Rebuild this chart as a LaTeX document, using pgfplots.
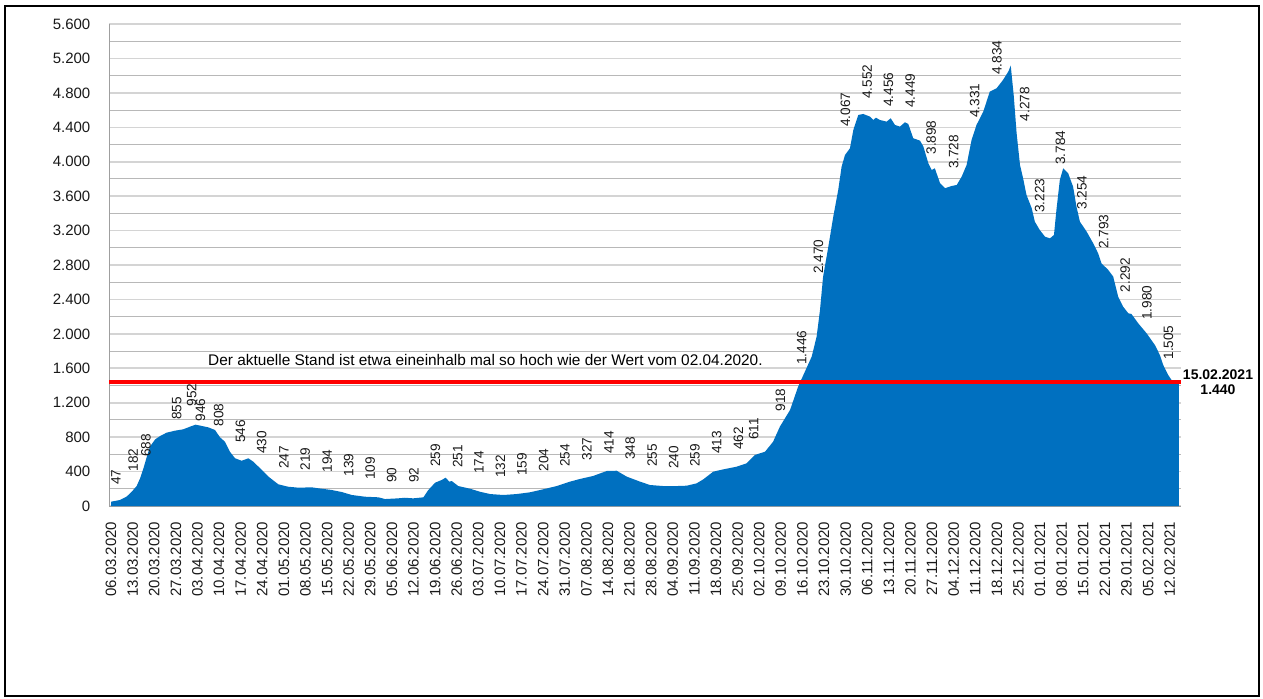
\documentclass[border=0pt]{standalone}
\usepackage{pgfplots}
\pgfplotsset{compat=1.18}
\usepackage{fontspec}
\setmainfont{Liberation Sans}
\definecolor{xlblue}{HTML}{0070C0}
\begin{document}
\begin{tikzpicture}
\begin{axis}[
  at={(0pt,0pt)}, anchor=south west,
  scale only axis, width=535.5pt, height=241pt,
  xmin=-0.5, xmax=346.5, ymin=0, ymax=5600,
  clip=false,
  axis x line=bottom, axis y line=left,
  axis line style={-, draw=gray!75, line width=0.5pt},
  ytick={0,400,...,5600},
  minor ytick={200,600,...,5400},
  ymajorgrids, yminorgrids,
  major grid style={draw=black!17, line width=0.8pt},
  minor grid style={draw=black!28, line width=0.45pt},
  tick style={draw=none},
  scaled y ticks=false,
  /pgf/number format/1000 sep={.},
  /pgf/number format/assume math mode=true,
  tick label style={font=\fontsize{7.5}{9}\selectfont, text=black!90},
  yticklabel style={anchor=east, inner sep=0pt},
  yticklabel shift=7.25pt,
  xtick={0,7,...,343},
  xticklabels={06.03.2020,13.03.2020,20.03.2020,27.03.2020,03.04.2020,10.04.2020,17.04.2020,24.04.2020,01.05.2020,08.05.2020,15.05.2020,22.05.2020,29.05.2020,05.06.2020,12.06.2020,19.06.2020,26.06.2020,03.07.2020,10.07.2020,17.07.2020,24.07.2020,31.07.2020,07.08.2020,14.08.2020,21.08.2020,28.08.2020,04.09.2020,11.09.2020,18.09.2020,25.09.2020,02.10.2020,09.10.2020,16.10.2020,23.10.2020,30.10.2020,06.11.2020,13.11.2020,20.11.2020,27.11.2020,04.12.2020,11.12.2020,18.12.2020,25.12.2020,01.01.2021,08.01.2021,15.01.2021,22.01.2021,29.01.2021,05.02.2021,12.02.2021},
  xticklabel style={rotate=90, anchor=east, inner sep=0pt},
  xticklabel shift=5.5pt,
]
\addplot[fill=xlblue, draw=none] table {
x y
0 50
2.9 70
5 108
6.7 166
8.3 232
9.4 321
10.5 438
11.6 573
12.6 689
14.3 775
15.9 813
18 852
20.7 875
23.4 891
25.6 922
27.4 945
29.4 930
31.5 914
33.7 883
35.3 798
36.9 747
38.5 631
40.2 554
42.3 526
44.5 554
46.1 515
48.3 438
51 341
54.2 252
57.4 224
60.7 213
65 217
67.2 206
71.5 186
74.7 163
78 128
82.3 108
86.6 101
88.8 81
93 89
95.2 96
97.9 89
101.2 101
102.8 186
105 271
107.1 302
108.4 329
109.6 283
110.4 290
112.5 232
116.3 201
119.5 166
122.8 139
127.1 128
131.4 139
135.7 159
140 194
144.4 232
148.7 283
151.9 314
156.2 349
160.6 407
163.8 410
167.1 341
171.4 283
174.6 244
178.9 232
183.3 232
186.5 236
189.7 263
191.9 310
195.1 399
198.4 426
202.7 457
205.9 496
208.6 593
211.9 631
214.5 747
216.7 922
220 1116
222.6 1386
224.8 1561
227 1735
228.6 1967
229.7 2278
230.7 2665
232.4 3013
234 3362
235.6 3672
236.7 3943
237.8 4079
239.4 4156
240.5 4369
242.1 4543
243.7 4555
245.9 4524
247 4485
247.8 4512
249.1 4485
251.3 4466
252.6 4505
254 4427
255.6 4408
257.2 4458
258.3 4439
259.9 4273
262.1 4245
263.2 4175
264.8 3982
265.9 3904
266.9 3924
268.6 3750
270.2 3692
272.3 3718
274 3730
275.6 3827
277.2 3962
278.8 4253
280.4 4427
282.6 4582
284.7 4814
286.9 4853
289 4950
290.7 5047
291.5 5116
292.5 4756
293.4 4331
294.5 3962
295.5 3808
296.6 3614
298.3 3459
299.3 3304
300.9 3207
302.6 3129
304.2 3110
305.5 3149
306.3 3440
307.4 3788
308.5 3924
310.1 3866
311.7 3710
312.8 3478
313.9 3304
316.1 3187
318.2 3053
319.8 2937
320.9 2820
323.1 2742
324.7 2665
326.3 2432
327.9 2316
329.6 2239
330.6 2231
332.8 2123
335.5 2007
338.2 1871
339.8 1755
340.9 1639
342.5 1522
343.6 1464
345 1444
346 1440
} \closedcycle;
\addplot[draw={rgb,255:red,255;green,0;blue,0}, line width=1.8pt] coordinates {(-0.5,1440) (346.5,1440)};
\addplot[draw=none, nodes near coords, point meta=explicit symbolic,
  nodes near coords align=horizontal,
  every node near coord/.append style={rotate=90, anchor=west, inner sep=0pt, font=\fontsize{6.8}{8}\selectfont, text=black!90}]
  table[meta=lab] {
x y lab
1.6 244 47
7.2 399 182
11.3 566 688
21.3 999 855
26.1 1154 952
29.0 980 946
34.9 921 808
41.9 729 546
48.8 604 430
56.0 430 247
62.9 410 219
70.0 387 194
77.0 340 139
84.0 302 109
90.9 264 90
98.1 264 92
105.1 450 259
112.3 438 251
119.2 372 174
126.2 322 132
133.1 349 159
140.2 399 204
147.1 450 254
154.2 526 327
161.3 604 414
168.2 535 348
175.3 450 255
182.3 430 240
189.2 450 259
196.2 604 413
203.3 651 462
208.2 767 611
216.9 1096 918
223.8 1638 1.446
229.2 2696 2.470
237.9 4400 4.067
245.0 4726 4.552
251.9 4633 4.456
258.9 4621 4.449
265.7 4079 3.898
273.0 3912 3.728
279.8 4505 4.331
287.0 5008 4.834
296.0 4466 4.278
300.9 3401 3.223
307.6 3962 3.784
314.6 3440 3.254
321.6 2983 2.793
328.6 2479 2.292
335.6 2161 1.980
342.6 1697 1.505
};
\node[anchor=base, inner sep=0pt, font=\fontsize{7.7}{9}\selectfont] at (axis cs:121.3,1638) {Der aktuelle Stand ist etwa eineinhalb mal so hoch wie der Wert vom 02.04.2020.};
\node[align=center, inner sep=0pt, font=\bfseries\fontsize{7}{7.85}\selectfont, xshift=18.75pt] at (axis cs:346.5,1440) {15.02.2021\\1.440};
\end{axis}
\draw[line width=1pt, black] (-52.25pt,-95pt) rectangle (574.75pt,250pt);
\path (-54.75pt,-96pt) rectangle (576.75pt,253pt);
\end{tikzpicture}
\end{document}
